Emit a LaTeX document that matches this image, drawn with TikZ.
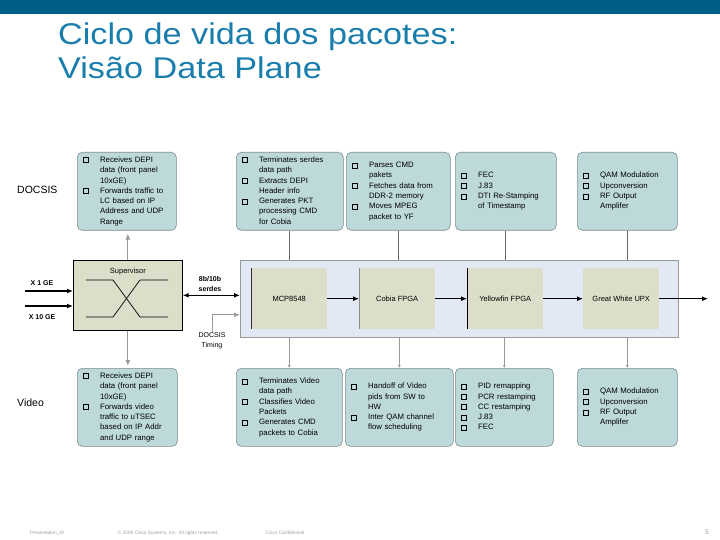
\documentclass[tikz,border=0pt]{standalone}
\usepackage{fontspec}
\setmainfont{Liberation Sans}
\newfontfamily\titlefont[FakeStretch=1.14]{Liberation Sans}
\usetikzlibrary{
  arrows.meta,
  positioning,
  calc
}
\definecolor{dpBar}{HTML}{005E86}
\definecolor{dpTitle}{HTML}{1A7EAD}
\definecolor{dpTeal}{HTML}{BDD9DA}
\definecolor{dpEdge}{HTML}{7E8C8E}
\definecolor{dpChip}{HTML}{DCDEC9}
\definecolor{dpPlane}{HTML}{E3E9F4}
\definecolor{dpFeed}{HTML}{9A9A9A}
\definecolor{dpFoot}{HTML}{A0A0A0}
\newcommand{\qbullet}{{\setlength{\fboxsep}{0pt}\setlength{\fboxrule}{0.8pt}\fbox{\rule{0pt}{4.2pt}\hspace{4.2pt}}}}
\newcommand{\blist}[1]{\noindent\begin{tabular}{@{}l@{\hspace{11pt}}l@{}}#1\end{tabular}}
\tikzset{
  infobox/.style={
    draw=dpEdge, fill=dpTeal, rounded corners=5pt, line width=0.6pt,
    anchor=north west, minimum height=78pt, inner xsep=6pt, inner ysep=2pt,
    align=left, font=\fontsize{7.8}{10.3}\selectfont
  },
  chip/.style={
    fill=dpChip, anchor=north west, minimum width=76pt, minimum height=61pt,
    font=\fontsize{7.5}{9}\selectfont
  },
  plane/.style={fill=dpPlane, draw=black!40, line width=0.6pt, anchor=north west,
    minimum width=438pt, minimum height=77pt},
  supbox/.style={fill=dpChip, draw=black, line width=0.7pt, anchor=north west,
    minimum width=109pt, minimum height=70pt},
  flow/.style={-{Latex[length=6pt,width=5pt]}, line width=1.3pt, black},
  dflow/.style={{Latex[length=6pt,width=5pt]}-{Latex[length=6pt,width=5pt]}, line width=1.3pt, black},
  feed/.style={-{Latex[length=6pt,width=5pt]}, line width=1pt, dpFeed},
  tap/.style={-{Latex[length=3pt,width=3pt]}, line width=0.7pt, dpFeed},
  wire/.style={line width=0.7pt, black!60},
  tag/.style={font=\fontsize{7}{10}\selectfont\bfseries, align=center, inner sep=1pt},
  side/.style={font=\fontsize{10.5}{12}\selectfont, anchor=west, inner sep=0pt},
  foot/.style={font=\fontsize{4.8}{6}\selectfont, text=dpFoot, inner sep=0pt}
}
\begin{document}
\begin{tikzpicture}[x=1pt, y=-1pt]
  \useasboundingbox (0,0) rectangle (720,540);
  \fill[white] (0,0) rectangle (720,540);
  \fill[dpBar] (0,0) rectangle (720,14);
  \node[anchor=north west, align=left, inner sep=0pt, text=dpTitle,
    font=\titlefont\fontsize{30}{34}\selectfont] (title) at (58,23)
    {Ciclo de vida dos pacotes:\\Visão Data Plane};

  % DOCSIS row
  \node[side] (docsis) at (17,190) {DOCSIS};
  \node[infobox, text width=87pt] (dtop1) at (77,152) {\blist{
    \qbullet & Receives DEPI\\ & data (front panel\\ & 10xGE)\\
    \qbullet & Forwards traffic to\\ & LC based on IP\\ & Address and UDP\\ & Range}};
  \node[infobox, text width=95pt] (dtop2) at (236,152) {\blist{
    \qbullet & Terminates serdes\\ & data path\\
    \qbullet & Extracts DEPI\\ & Header info\\
    \qbullet & Generates PKT\\ & processing CMD\\ & for Cobia}};
  \node[infobox, text width=92pt] (dtop3) at (346,152) {\blist{
    \qbullet & Parses CMD\\ & pakets\\
    \qbullet & Fetches data from\\ & DDR-2 memory\\
    \qbullet & Moves MPEG\\ & packet to YF}};
  \node[infobox, text width=89pt] (dtop4) at (455,152) {\blist{
    \qbullet & FEC\\
    \qbullet & J.83\\
    \qbullet & DTI Re-Stamping\\ & of Timestamp}};
  \node[infobox, text width=88pt] (dtop5) at (577,152) {\blist{
    \qbullet & QAM Modulation\\
    \qbullet & Upconversion\\
    \qbullet & RF Output\\ & Amplifer}};

  % supervisor and data plane
  \node[supbox] (sup) at (73,260) {};
  \node[anchor=north, font=\fontsize{7.5}{9}\selectfont, inner sep=1pt] (suplbl) at ([yshift=-7pt]sup.north) {Supervisor};
  \draw[line width=0.7pt] (86,280) -- (113,280) -- (140,317) -- (168,317);
  \draw[line width=0.7pt] (86,317) -- (113,317) -- (140,280) -- (168,280);
  \node[plane] (plane) at (240,260) {};
  \node[chip] (mcp) at (251,268) {MCP8548};
  \node[chip] (cobia) at (359,268) {Cobia FPGA};
  \node[chip] (yellow) at (467,268) {Yellowfin FPGA};
  \node[chip] (gwhite) at (583,268) {Great White UPX};
  \draw[black!80, line width=0.6pt] (mcp.north west) -- (mcp.south west);
  \draw[black!45, line width=0.6pt] (cobia.north west) -- (cobia.south west);
  \draw[black, line width=0.6pt] (yellow.north west) -- (yellow.south west);
  \coordinate (dpout) at (708,298);
  \draw[flow] (mcp) -- (cobia);
  \draw[flow] (cobia) -- (yellow);
  \draw[flow] (yellow) -- (gwhite);
  \draw[flow] (gwhite) -- (gwhite.east -| dpout);

  \coordinate (in1) at (25,291);
  \coordinate (in10) at (25,306);
  \draw[flow] (in1) -- (in1 -| sup.west);
  \draw[flow] (in10) -- (in10 -| sup.west);
  \node[tag] (x1) at (42,283) {X 1 GE};
  \node[tag] (x10) at (42,317) {X 10 GE};
  \draw[dflow] (sup.east) -- (sup.east -| plane.west);
  \node[tag] (serdes) at (210,284) {8b/10b\\serdes};
  \node[font=\fontsize{7}{10}\selectfont, align=center, inner sep=1pt] (timing) at (212,341) {DOCSIS\\Timing};
  \draw[feed] (timing.north) |- ([yshift=-16pt]plane.west);

  \draw[feed] (sup.north) -- ([yshift=-3pt]sup.north |- dtop1.south);
  \foreach \n in {2,3,4,5}
    \draw[wire] (dtop\n.south) -- (dtop\n.south |- plane.north);

  % Video row
  \node[side] (video) at (17,403) {Video};
  \node[infobox, text width=88pt] (dbot1) at (77,368) {\blist{
    \qbullet & Receives DEPI\\ & data (front panel\\ & 10xGE)\\
    \qbullet & Forwards video\\ & traffic to uTSEC\\ & based on IP Addr\\ & and UDP range}};
  \node[infobox, text width=94pt] (dbot2) at (236,368) {\blist{
    \qbullet & Terminates Video\\ & data path\\
    \qbullet & Classifies Video\\ & Packets\\
    \qbullet & Generates CMD\\ & packets to Cobia}};
  \node[infobox, text width=96pt] (dbot3) at (345,368) {\blist{
    \qbullet & Handoff of Video\\ & pids from SW to\\ & HW\\
    \qbullet & Inter QAM channel\\ & flow scheduling}};
  \node[infobox, text width=86pt] (dbot4) at (455,368) {\blist{
    \qbullet & PID remapping\\
    \qbullet & PCR restamping\\
    \qbullet & CC restamping\\
    \qbullet & J.83\\
    \qbullet & FEC}};
  \node[infobox, text width=88pt] (dbot5) at (577,368) {\blist{
    \qbullet & QAM Modulation\\
    \qbullet & Upconversion\\
    \qbullet & RF Output\\ & Amplifer}};

  \draw[feed] (sup.south) -- ([yshift=2pt]sup.south |- dbot1.north);
  \foreach \n in {2,3,4,5}
    \draw[tap] (dbot\n.north |- plane.south) -- (dbot\n.north);

  % footer
  \node[foot] (pid) at (47,533) {Presentation\_ID};
  \node[foot] (copy) at (168,533) {© 2006 Cisco Systems, Inc. All rights reserved.};
  \node[foot] (conf) at (285,533) {Cisco Confidential};
  \node[foot, font=\fontsize{7}{8}\selectfont] (pnum) at (707,532) {5};
\end{tikzpicture}
\end{document}
